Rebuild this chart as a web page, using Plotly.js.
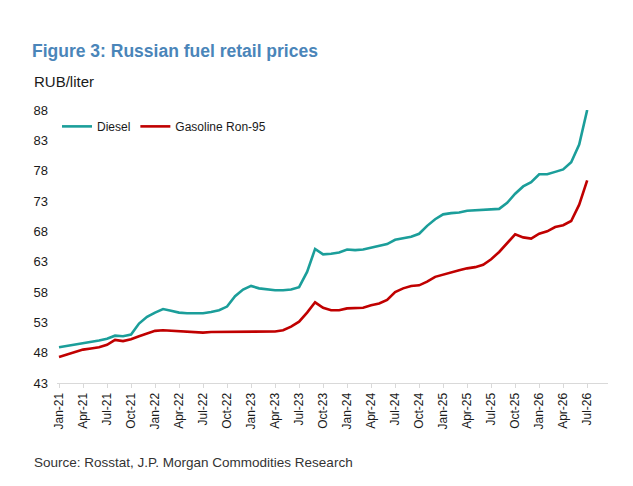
<!DOCTYPE html>
<html>
<head>
<meta charset="utf-8">
<script src="https://cdn.plot.ly/plotly-3.0.1.min.js"></script>
<style>
html,body{margin:0;padding:0;background:#fff;}
#chart{width:633px;height:486px;}
</style>
</head>
<body>
<div id="chart"></div>
<script>
var months = [
  "Jan-21","Feb-21","Mar-21","Apr-21","May-21","Jun-21","Jul-21","Aug-21","Sep-21","Oct-21","Nov-21","Dec-21",
  "Jan-22","Feb-22","Mar-22","Apr-22","May-22","Jun-22","Jul-22","Aug-22","Sep-22","Oct-22","Nov-22","Dec-22",
  "Jan-23","Feb-23","Mar-23","Apr-23","May-23","Jun-23","Jul-23","Aug-23","Sep-23","Oct-23","Nov-23","Dec-23",
  "Jan-24","Feb-24","Mar-24","Apr-24","May-24","Jun-24","Jul-24","Aug-24","Sep-24","Oct-24","Nov-24","Dec-24",
  "Jan-25","Feb-25","Mar-25","Apr-25","May-25","Jun-25","Jul-25","Aug-25","Sep-25","Oct-25","Nov-25","Dec-25",
  "Jan-26","Feb-26","Mar-26","Apr-26","May-26","Jun-26","Jul-26"
];

var diesel = [
  48.9,49.1,49.4,49.5,49.7,50.0,50.3,50.8,50.7,51.0,52.8,53.9,
  54.6,55.2,54.9,54.6,54.5,54.5,54.5,54.7,55.0,55.6,57.3,58.4,
  59.0,58.6,58.4,58.3,58.3,58.4,58.8,61.3,65.1,64.2,64.3,64.5,
  65.0,64.9,65.0,65.3,65.6,65.9,66.6,66.9,67.1,67.6,68.9,70.0,
  70.8,71.0,71.1,71.4,71.5,71.6,71.7,71.7,72.7,74.2,75.4,76.1,
  77.4,77.4,77.8,78.2,79.4,82.3,88.0
];

var gasoline = [
  47.3,47.7,48.2,48.5,48.7,48.9,49.3,50.1,49.9,50.2,50.7,51.1,
  51.6,51.7,51.6,51.5,51.4,51.3,51.3,51.4,51.4,51.4,51.5,51.5,
  51.5,51.5,51.5,51.5,51.7,52.3,53.1,54.6,56.3,55.4,55.0,55.0,
  55.3,55.3,55.4,55.8,56.1,56.7,58.0,58.6,59.0,59.1,59.7,60.5,
  60.9,61.2,61.6,61.9,62.1,62.5,63.4,64.6,66.0,67.5,67.0,66.8,
  67.6,68.0,68.7,69.0,69.7,72.4,76.4
];

var xTickLabels = ["Jan-21","Apr-21","Jul-21","Oct-21","Jan-22","Apr-22","Jul-22","Oct-22",
  "Jan-23","Apr-23","Jul-23","Oct-23","Jan-24","Apr-24","Jul-24","Oct-24",
  "Jan-25","Apr-25","Jul-25","Oct-25","Jan-26","Apr-26","Jul-26"];

var yTicks = [43,48,53,58,63,68,73,78,83,88];

var seriesNames = ["Diesel","Gasoline Ron-95"];

var FONT = "Liberation Sans, Arial, sans-serif";

var traces = [
  {x: months, y: diesel, name: seriesNames[0], type: "scatter", mode: "lines",
   line: {color: "#1b9e9a", width: 2.6}, cliponaxis: false},
  {x: months, y: gasoline, name: seriesNames[1], type: "scatter", mode: "lines",
   line: {color: "#c00000", width: 2.6}, cliponaxis: false}
];

var layout = {
  width: 633, height: 486,
  margin: {l: 57, r: 25, t: 110, b: 103},
  paper_bgcolor: "#ffffff", plot_bgcolor: "#ffffff",
  font: {family: FONT, size: 13, color: "#1a1a1a"},
  title: {
    text: "<b>Figure 3: Russian fuel retail prices</b>",
    font: {family: FONT, size: 17.5, color: "#4a85b9"},
    x: 32/633, xanchor: "left", xref: "container",
    y: 1 - 45/486, yanchor: "top", yref: "container"
  },
  showlegend: true,
  legend: {
    orientation: "h",
    x: 0.0, xanchor: "left",
    y: 0.94, yanchor: "middle",
    font: {family: FONT, size: 12, color: "#1a1a1a"},
    bgcolor: "rgba(0,0,0,0)",
    itemwidth: 30,
    tracegroupgap: 0
  },
  xaxis: {
    type: "category",
    categoryorder: "array", categoryarray: months,
    range: [-0.25, 68.6],
    tickmode: "array", tickvals: xTickLabels, ticktext: xTickLabels,
    tickangle: -90,
    tickfont: {family: FONT, size: 12, color: "#1a1a1a"},
    showgrid: false, zeroline: false,
    showline: true, linecolor: "#d9d9d9", linewidth: 1,
    ticks: "outside", ticklen: 4, tickcolor: "#d9d9d9", tickwidth: 1,
    fixedrange: true
  },
  yaxis: {
    range: [43, 88],
    tickmode: "array", tickvals: yTicks, ticktext: yTicks.map(String),
    tickfont: {family: FONT, size: 13, color: "#1a1a1a"},
    showgrid: false, zeroline: false, showline: false,
    ticks: "", ticklabelstandoff: 8,
    fixedrange: true
  },
  annotations: [
    {text: "RUB/liter", xref: "paper", yref: "paper",
     x: (32-57)/551, xanchor: "left", y: (383-82)/273, yanchor: "middle",
     showarrow: false, font: {family: FONT, size: 15, color: "#1a1a1a"}},
    {text: "Source: Rosstat, J.P. Morgan Commodities Research", xref: "paper", yref: "paper",
     x: (32-57)/551, xanchor: "left", y: (383-462)/273, yanchor: "middle",
     showarrow: false, font: {family: FONT, size: 13.5, color: "#333333"}}
  ]
};

Plotly.newPlot("chart", traces, layout, {displayModeBar: false, staticPlot: true});
</script>
</body>
</html>
